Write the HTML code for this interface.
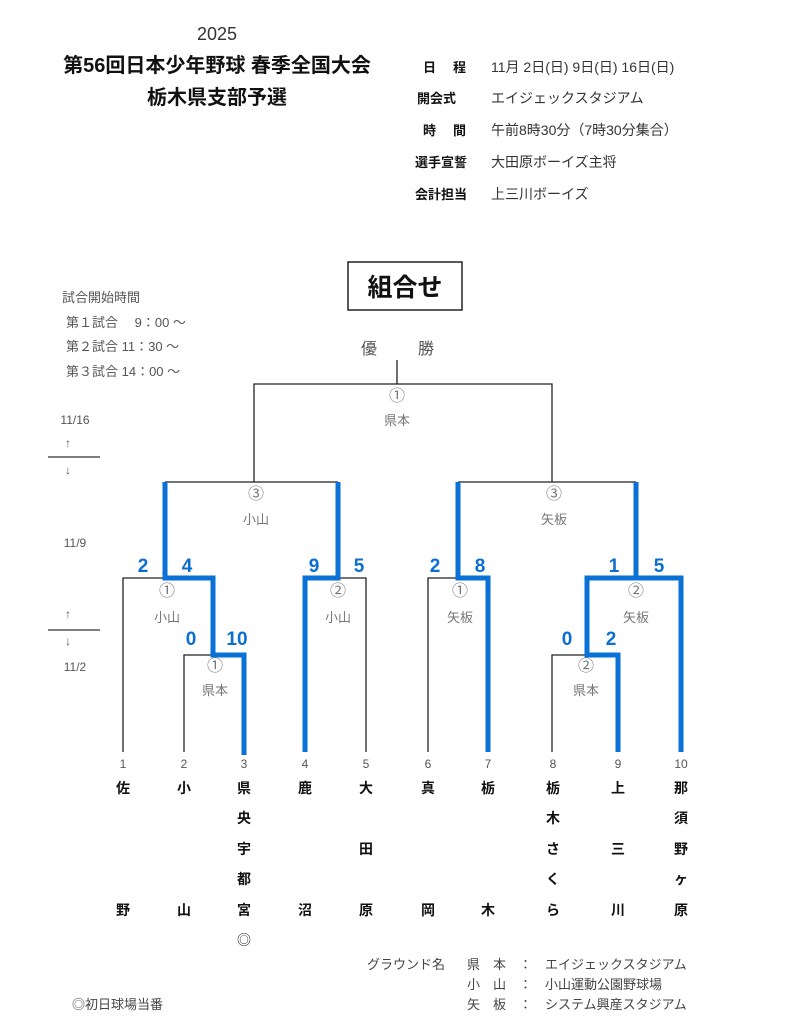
<!DOCTYPE html>
<html><head><meta charset="utf-8"><style>
html,body{margin:0;padding:0;background:#fff;}
svg{display:block;font-family:"Liberation Sans","Noto Sans CJK JP",sans-serif;}
.g{fill:#777;font-size:13px;}
.c{fill:#777;font-size:16px;}
.n{fill:#555;font-size:12px;}
.t{fill:#111;font-size:14px;font-weight:bold;}
.s{fill:#0a6fd0;font-size:19px;font-weight:bold;}
.k{stroke:#222;stroke-width:1.3;fill:none;}
.b{stroke:#0a72d6;stroke-width:5;fill:none;stroke-linejoin:miter;}
.i{fill:#333;font-size:14px;}
.h{fill:#111;font-size:13px;font-weight:bold;}
</style></head><body>
<svg width="793" height="1024" viewBox="0 0 793 1024">
<text x="217" y="40" text-anchor="middle" style="font-size:18px;fill:#333">2025</text>
<text x="217" y="72" text-anchor="middle" style="font-size:20px;font-weight:bold;fill:#111">第56回日本少年野球 春季全国大会</text>
<text x="217" y="104" text-anchor="middle" style="font-size:20px;font-weight:bold;fill:#111">栃木県支部予選</text>

<text x="423" y="72" class="h">日</text><text x="453" y="72" class="h">程</text>
<text x="491" y="72" class="i">11月 2日(日) 9日(日) 16日(日)</text>
<text x="417" y="103" class="h">開会式</text><text x="491" y="103" class="i">エイジェックスタジアム</text>
<text x="423" y="135" class="h">時</text><text x="453" y="135" class="h">間</text>
<text x="491" y="135" class="i">午前8時30分（7時30分集合）</text>
<text x="415" y="167" class="h">選手宣誓</text><text x="491" y="167" class="i">大田原ボーイズ主将</text>
<text x="415" y="199" class="h">会計担当</text><text x="491" y="199" class="i">上三川ボーイズ</text>

<rect x="348" y="262" width="114" height="48" fill="none" stroke="#222" stroke-width="1.5"/>
<text x="405" y="296" text-anchor="middle" style="font-size:25px;font-weight:bold;fill:#111">組合せ</text>

<text x="62" y="302" class="g" style="fill:#555">試合開始時間</text>
<text x="66" y="327" class="g" style="fill:#555">第１試合　 9：00 ～</text>
<text x="66" y="351" class="g" style="fill:#555">第２試合  11：30 ～</text>
<text x="66" y="376" class="g" style="fill:#555">第３試合  14：00 ～</text>

<text x="361" y="354" style="font-size:16px;fill:#555">優</text>
<text x="418" y="354" style="font-size:16px;fill:#555">勝</text>

<text x="75" y="424" text-anchor="middle" class="n">11/16</text>
<text x="68" y="447" text-anchor="middle" class="n">↑</text>
<line x1="48" y1="457" x2="100" y2="457" stroke="#333" stroke-width="1.2"/>
<text x="68" y="474" text-anchor="middle" class="n">↓</text>
<text x="75" y="547" text-anchor="middle" class="n">11/9</text>
<text x="68" y="618" text-anchor="middle" class="n">↑</text>
<line x1="48" y1="630" x2="100" y2="630" stroke="#333" stroke-width="1.2"/>
<text x="68" y="645" text-anchor="middle" class="n">↓</text>
<text x="75" y="671" text-anchor="middle" class="n">11/2</text>

<path class="k" d="M397 360V384M254 482V384H552V482"/>
<path class="k" d="M165 482H338M458 482H636"/>
<path class="k" d="M123 752V578H213M366 752V578H338M428 752V578H458M681 578H636M587 578H636"/>
<path class="k" d="M184 752V655H244M552 752V655H618"/>

<path class="b" d="M244 755V655H213V578H165V482"/>
<path class="b" d="M305 752V578H338V482"/>
<path class="b" d="M488 752V578H458V482"/>
<path class="b" d="M618 752V655H587V578H636V482"/>
<path class="b" d="M681 752V578H636"/>

<g text-anchor="middle">
<text class="c" x="397" y="401">①</text><text class="g" x="397" y="425">県本</text>
<text class="c" x="256" y="499">③</text><text class="g" x="256" y="524">小山</text>
<text class="c" x="554" y="499">③</text><text class="g" x="554" y="524">矢板</text>
<text class="c" x="167" y="596">①</text><text class="g" x="167" y="622">小山</text>
<text class="c" x="338" y="596">②</text><text class="g" x="338" y="622">小山</text>
<text class="c" x="460" y="596">①</text><text class="g" x="460" y="622">矢板</text>
<text class="c" x="636" y="596">②</text><text class="g" x="636" y="622">矢板</text>
<text class="c" x="215" y="671">①</text><text class="g" x="215" y="695">県本</text>
<text class="c" x="586" y="671">②</text><text class="g" x="586" y="695">県本</text>
</g>

<g class="s" text-anchor="middle">
<text x="143" y="572">2</text><text x="187" y="572">4</text>
<text x="314" y="572">9</text><text x="359" y="572">5</text>
<text x="435" y="572">2</text><text x="480" y="572">8</text>
<text x="614" y="572">1</text><text x="659" y="572">5</text>
<text x="191" y="645">0</text><text x="237" y="645">10</text>
<text x="567" y="645">0</text><text x="611" y="645">2</text>
</g>

<g class="n" text-anchor="middle">
<text x="123" y="768">1</text><text x="184" y="768">2</text><text x="244" y="768">3</text>
<text x="305" y="768">4</text><text x="366" y="768">5</text><text x="428" y="768">6</text>
<text x="488" y="768">7</text><text x="553" y="768">8</text><text x="618" y="768">9</text>
<text x="681" y="768">10</text>
</g>

<g class="t" text-anchor="middle">
<text x="123" y="793">佐</text><text x="123" y="915">野</text>
<text x="184" y="793">小</text><text x="184" y="915">山</text>
<text x="244" y="793">県</text><text x="244" y="823">央</text><text x="244" y="854">宇</text><text x="244" y="884">都</text><text x="244" y="915">宮</text>
<text x="305" y="793">鹿</text><text x="305" y="915">沼</text>
<text x="366" y="793">大</text><text x="366" y="854">田</text><text x="366" y="915">原</text>
<text x="428" y="793">真</text><text x="428" y="915">岡</text>
<text x="488" y="793">栃</text><text x="488" y="915">木</text>
<text x="553" y="793">栃</text><text x="553" y="823">木</text><text x="553" y="854">さ</text><text x="553" y="884">く</text><text x="553" y="915">ら</text>
<text x="618" y="793">上</text><text x="618" y="854">三</text><text x="618" y="915">川</text>
<text x="681" y="793">那</text><text x="681" y="823">須</text><text x="681" y="854">野</text><text x="681" y="884">ヶ</text><text x="681" y="915">原</text>
</g>
<text x="244" y="945" text-anchor="middle" style="font-size:14px;fill:#222">◎</text>

<g style="font-size:13px;fill:#444">
<text x="367" y="969">グラウンド名</text>
<text x="467" y="969">県　本　：　エイジェックスタジアム</text>
<text x="467" y="989">小　山　：　小山運動公園野球場</text>
<text x="467" y="1009">矢　板　：　システム興産スタジアム</text>
<text x="72" y="1009">◎初日球場当番</text>
</g>
</svg>
</body></html>
